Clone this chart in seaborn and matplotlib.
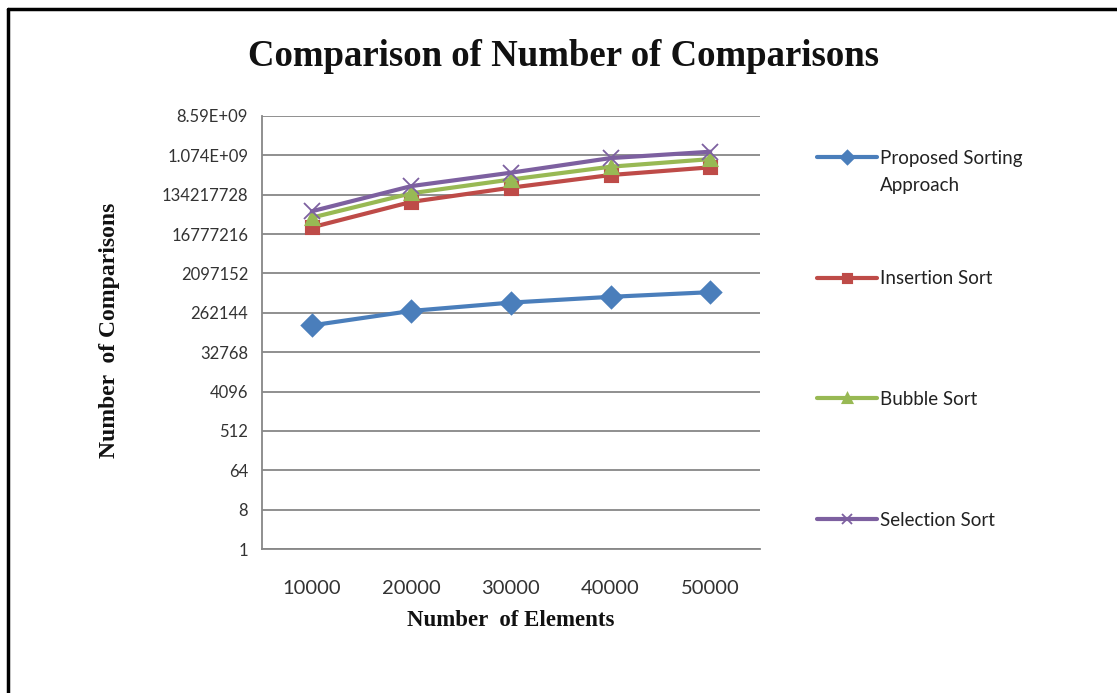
import numpy as np
import pandas as pd
import seaborn as sns
import matplotlib
matplotlib.use("Agg")
import matplotlib.pyplot as plt
from matplotlib.lines import Line2D
from matplotlib.ticker import FixedLocator, NullLocator

# Number of elements sorted (category axis)
elements = ["10000", "20000", "30000", "40000", "50000"]

# Comparisons counted for each algorithm
proposed = [135000, 290000, 450000, 610000, 780000]
insertion = [24e6, 92e6, 195e6, 380e6, 570e6]
bubble = [40e6, 145e6, 300e6, 590e6, 880e6]
selection = [56e6, 212e6, 430e6, 930e6, 1.3e9]

series_names = ["Proposed Sorting Approach", "Insertion Sort", "Bubble Sort", "Selection Sort"]
series_colors = ["#4A7EBB", "#BE4B48", "#98B954", "#7D60A0"]
series_markers = ["D", "s", "^", "x"]

# Powers of eight on the logarithmic value axis
ytick_values = [8 ** k for k in range(12)]
ytick_labels = ["1", "8", "64", "512", "4096", "32768", "262144", "2097152",
                "16777216", "134217728", "1.074E+09", "8.59E+09"]

df = pd.DataFrame({
    "Elements": elements * 4,
    "Comparisons": proposed + insertion + bubble + selection,
    "Algorithm": sum([[n] * len(elements) for n in series_names], []),
})

sns.set_style("white")
plt.rcParams["font.family"] = ["Lato", "DejaVu Sans"]

W, H = 1117, 693
fig = plt.figure(figsize=(W / 100, H / 100), dpi=100)
ax = fig.add_axes([262 / W, 1 - 549 / H, (760 - 262) / W, (549 - 116) / H])

sns.pointplot(
    data=df, x="Elements", y="Comparisons", hue="Algorithm",
    order=elements, hue_order=series_names,
    palette=dict(zip(series_names, series_colors)),
    markers=series_markers, linestyles="-", errorbar=None, dodge=False,
    linewidth=3.0, ax=ax,
)
leg = ax.get_legend()
if leg is not None:
    leg.remove()

marker_sizes = [10, 9, 9, 11]
for line, ms, col in zip(ax.lines[:4], marker_sizes, series_colors):
    line.set_markersize(ms)
    line.set_markerfacecolor(col)
    line.set_markeredgecolor(col)
    line.set_linewidth(3.0)
ax.lines[3].set_markeredgewidth(1.3)

ax.set_yscale("log", base=2)
ax.set_ylim(1, 8 ** 11)
ax.set_xlim(-0.5, 4.5)
ax.yaxis.set_major_locator(FixedLocator(ytick_values))
ax.set_yticklabels(ytick_labels)
ax.yaxis.set_minor_locator(NullLocator())

# Category boundaries carry the tick marks; labels sit at category centres
ax.set_xticks(range(len(elements)))
ax.set_xticklabels(elements)
ax.set_xticks(np.arange(-0.5, len(elements)), minor=True)
ax.tick_params(axis="x", which="major", length=0, pad=22, labelsize=14.5, labelcolor="#333333")
ax.tick_params(axis="x", which="minor", length=7, width=1.2, color="#878787", direction="out")
ax.tick_params(axis="y", which="major", length=6, width=1.2, color="#878787",
               direction="out", pad=4, labelsize=12, labelcolor="#333333")

ax.yaxis.grid(True, color="#878787", linewidth=1.3)
ax.xaxis.grid(False)
ax.set_axisbelow(True)
for side in ("top", "right"):
    ax.spines[side].set_visible(False)
for side in ("left", "bottom"):
    ax.spines[side].set_color("#878787")
    ax.spines[side].set_linewidth(1.3)

ax.set_xlabel("Number  of Elements", family="Liberation Serif", fontweight="bold",
              fontsize=16.5, labelpad=10, color="#111111")
ax.set_ylabel("")
fig.text(110 / W, 1 - 330 / H, "Number  of Comparisons", family="Liberation Serif",
         fontweight="bold", fontsize=17, rotation=90, ha="center", va="center", color="#111111")

fig.text(563 / W, 1 - 57 / H, "Comparison of Number of Comparisons",
         family="Liberation Serif", fontweight="bold", fontsize=26.5,
         ha="center", va="center", color="#111111")

legend_labels = ["Proposed Sorting", "Insertion Sort", "Bubble Sort", "Selection Sort"]
leg = fig.legend(handles=ax.lines[:4], labels=legend_labels, loc="upper left",
                 bbox_to_anchor=(817 / W, 1 - 150 / H), frameon=False,
                 fontsize=13.5, handlelength=3.2, handletextpad=0.15, labelspacing=5.52,
                 borderpad=0, borderaxespad=0, markerscale=0.6, labelcolor="#222222")

# Second line of the first legend label, set just below its first line
fig.canvas.draw()
bb = leg.get_texts()[0].get_window_extent()
fig.text(bb.x0 / W, (bb.y0 - 27) / H, "Approach", fontsize=13.5, color="#222222",
         ha="left", va="bottom")

# Frame lines along the top and left edges
fig.add_artist(Line2D([8 / W, 1], [1 - 9 / H, 1 - 9 / H], color="black", linewidth=2.5,
                      transform=fig.transFigure))
fig.add_artist(Line2D([8 / W, 8 / W], [0, 1 - 9 / H], color="black", linewidth=2.5,
                      transform=fig.transFigure))

fig.savefig("out.png", dpi=100, facecolor="white")
